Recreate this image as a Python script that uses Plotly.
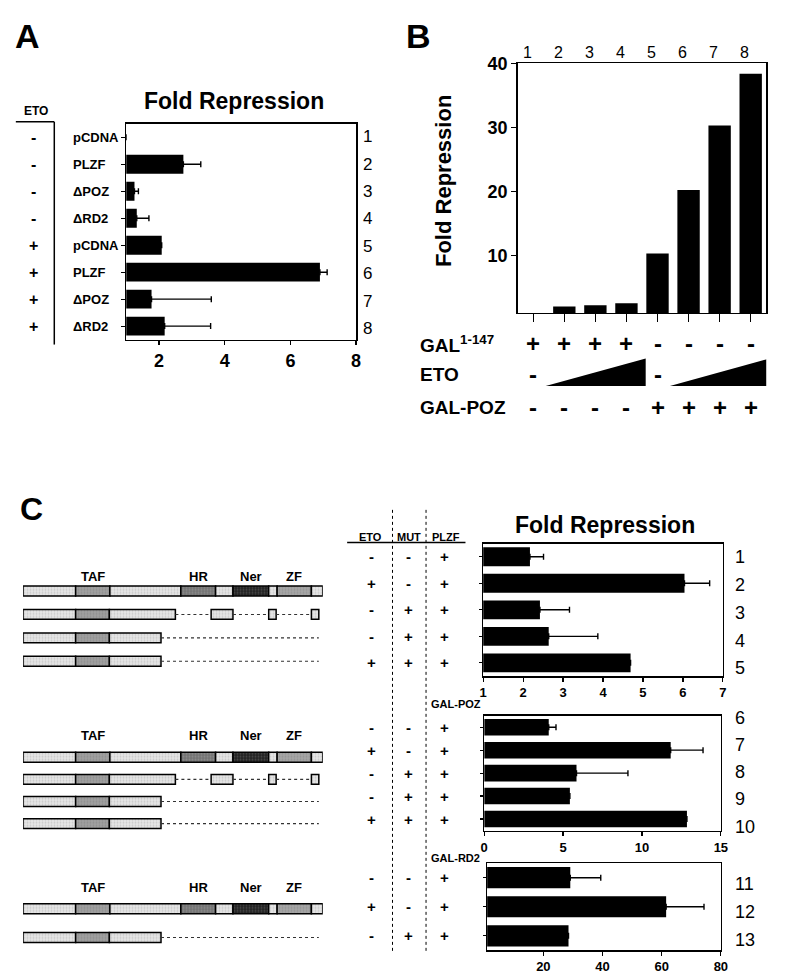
import plotly.graph_objects as go
import numpy as np

W, H = 789, 980
def fx(p): return p / W
def fy(p): return 1 - p / H

FONT = "Liberation Sans, Arial, Helvetica, sans-serif"

# ---------------- Panel A data ----------------
A_eto = ['-', '-', '-', '-', '+', '+', '+', '+']
A_constructs = ['pCDNA', 'PLZF', 'ΔPOZ', 'ΔRD2', 'pCDNA', 'PLZF', 'ΔPOZ', 'ΔRD2']
A_fold = [1.0, 2.74, 1.25, 1.32, 2.08, 6.90, 1.77, 2.17]
A_err_top = [None, 3.27, 1.37, 1.69, None, 7.12, 3.59, 3.57]
A_lanes = ['1', '2', '3', '4', '5', '6', '7', '8']
A_xticks = [2, 4, 6, 8]

# ---------------- Panel B data ----------------
B_lanes = [1, 2, 3, 4, 5, 6, 7, 8]
B_fold = [1.0, 2.0, 2.2, 2.5, 10.3, 20.2, 30.3, 38.4]
B_gal147 = ['+', '+', '+', '+', '-', '-', '-', '-']
B_eto = ['-', '', '', '', '-', '', '', '']
B_eto_ramps = [(2, 4), (6, 8)]
B_galpoz = ['-', '-', '-', '-', '+', '+', '+', '+']
B_yticks = [10, 20, 30, 40]

# ---------------- Panel C data ----------------
C_eto = ['-', '+', '-', '-', '+', '-', '+', '-', '-', '+', '-', '+', '-']
C_mut = ['-', '-', '+', '+', '+', '-', '-', '+', '+', '+', '-', '-', '+']
C_plzf = ['+'] * 13
C_lanes = [str(i) for i in range(1, 14)]
C_plzf_fold = [2.17, 6.04, 2.42, 2.64, 4.69]
C_plzf_err = [2.51, 6.67, 3.16, 3.87, None]
C_poz_fold = [4.09, 11.82, 5.85, 5.43, 12.85]
C_poz_err = [4.55, 13.87, 9.11, None, None]
C_rd2_fold = [29.1, 61.5, 28.5]
C_rd2_err = [39.4, 74.3, None]
C1_xticks = [1, 2, 3, 4, 5, 6, 7]
C2_xticks = [0, 5, 10, 15]
C3_xticks = [20, 40, 60, 80]

# schematic constructs (domain boundaries on a 0-604 residue scale)
FULL_START = [0, 106, 175, 318, 388, 423, 495, 512, 581]
FULL_END = [106, 175, 318, 388, 423, 495, 512, 581, 604]
FULL_KIND = ['L', 'TAF', 'L', 'HR', 'L', 'Ner', 'L', 'ZF', 'L']
DEL_START = [0, 106, 174, 379, 495, 581]
DEL_END = [106, 174, 307, 423, 510, 596]
DEL_KIND = ['L', 'TAF', 'L', 'L', 'L', 'L']
DEL_GAP_START = [307, 423, 510]
DEL_GAP_END = [379, 495, 581]
TRUNC_START = [0, 106, 174]
TRUNC_END = [106, 174, 278]
TRUNC_KIND = ['L', 'TAF', 'L']
TRUNC_GAP_START = [278]
TRUNC_GAP_END = [596]
DOMAIN_LABELS = ['TAF', 'HR', 'Ner', 'ZF']

KIND_COLOR = {'L': '#e6e6e6', 'TAF': '#a0a0a0', 'HR': '#737373', 'Ner': '#222222', 'ZF': '#a6a6a6'}

CONSTRUCTS = {
    'full': (FULL_START, FULL_END, FULL_KIND, [], []),
    'del': (DEL_START, DEL_END, DEL_KIND, DEL_GAP_START, DEL_GAP_END),
    'trunc': (TRUNC_START, TRUNC_END, TRUNC_KIND, TRUNC_GAP_START, TRUNC_GAP_END),
}
GROUP1 = ['full', 'del', 'trunc', 'trunc']
GROUP2 = ['full', 'del', 'trunc', 'trunc']
GROUP3 = ['full', 'trunc']

fig = go.Figure()

def plus_err(fold, top):
    return [(t - f) if t is not None else 0 for f, t in zip(fold, top)]

def hbar(vals, tops, xa, ya, width):
    n = len(vals)
    return go.Bar(
        x=vals, y=list(range(n)), orientation='h', xaxis=xa, yaxis=ya,
        marker=dict(color='black', line=dict(width=0)), width=width,
        error_x=dict(type='data', symmetric=False, array=plus_err(vals, tops),
                     arrayminus=[0] * n, color='black', thickness=1.4, width=3),
        hoverinfo='skip')

fig.add_trace(hbar(A_fold, A_err_top, 'x', 'y', 0.7))
fig.add_trace(go.Bar(x=B_lanes, y=B_fold, xaxis='x2', yaxis='y2', width=0.72,
                     marker=dict(color='black', line=dict(width=0)), hoverinfo='skip'))
fig.add_trace(hbar(C_plzf_fold, C_plzf_err, 'x3', 'y3', 0.71))
fig.add_trace(hbar(C_poz_fold, C_poz_err, 'x4', 'y4', 0.72))
fig.add_trace(hbar(C_rd2_fold, C_rd2_err, 'x5', 'y5', 0.73))

def schematic(group, ya, width):
    ys, bases, lens, cols = [], [], [], []
    gx, gy = [], []
    for r, name in enumerate(group):
        st, en, kd, gs, ge = CONSTRUCTS[name]
        for s, e, k in zip(st, en, kd):
            ys.append(r); bases.append(s); lens.append(e - s)
            cols.append(KIND_COLOR[k])
        for s, e in zip(gs, ge):
            gx += [s, e, None]; gy += [r, r, None]
    fig.add_trace(go.Scatter(x=gx, y=gy, xaxis='x6', yaxis=ya, mode='lines',
                             line=dict(color='#333333', width=1.1, dash='dot'),
                             hoverinfo='skip'))
    fig.add_trace(go.Bar(x=lens, base=bases, y=ys, orientation='h', xaxis='x6', yaxis=ya,
                         width=width,
                         marker=dict(color=cols, line=dict(color='black', width=1.5),
                                     pattern=dict(shape='.', fillmode='overlay',
                                                  fgcolor='#000000', fgopacity=0.18,
                                                  size=3, solidity=0.3)),
                         hoverinfo='skip'))

schematic(GROUP1, 'y6', 0.42)
schematic(GROUP2, 'y7', 0.45)
schematic(GROUP3, 'y8', 0.345)

tickfont = lambda s: dict(family=FONT, size=s, color='black', weight='bold')
def box_axis(**kw):
    d = dict(showline=True, mirror=True, linecolor='black', linewidth=1.5,
             showgrid=False, zeroline=False, ticks='outside', ticklen=4, tickwidth=1.2,
             tickcolor='black', fixedrange=True)
    d.update(kw)
    return d

layout = dict(
    width=W, height=H, margin=dict(l=0, r=0, t=0, b=0), autosize=False,
    paper_bgcolor='white', plot_bgcolor='white', showlegend=False, barmode='overlay',
    font=dict(family=FONT, color='black'),
    xaxis=box_axis(domain=[fx(124), fx(357)], range=[1, 8], anchor='y', tickvals=A_xticks,
                   tickfont=tickfont(18)),
    yaxis=box_axis(domain=[fy(333), fy(115)], range=[7.5, -0.5], anchor='x',
                   tickvals=list(range(8)), showticklabels=False),
    xaxis2=box_axis(domain=[fx(521), fx(773)], range=[0.5, 8.5], anchor='y2',
                    tickvals=B_lanes, showticklabels=False, ticklen=8),
    yaxis2=box_axis(domain=[fy(306), fy(54)], range=[1, 40], anchor='x2',
                    tickvals=B_yticks, tickfont=tickfont(18), ticklen=5),
    xaxis3=box_axis(domain=[fx(486), fx(729)], range=[1, 7], anchor='y3',
                    tickvals=C1_xticks, tickfont=tickfont(13)),
    yaxis3=box_axis(domain=[fy(673), fy(539)], range=[4.5, -0.5], anchor='x3',
                    tickvals=list(range(5)), showticklabels=False, ticklen=3),
    xaxis4=box_axis(domain=[fx(487), fx(727)], range=[0, 15], anchor='y4',
                    tickvals=C2_xticks, tickfont=tickfont(13)),
    yaxis4=box_axis(domain=[fy(829), fy(713)], range=[4.5, -0.5], anchor='x4',
                    tickvals=list(range(5)), showticklabels=False, ticklen=3),
    xaxis5=box_axis(domain=[fx(490), fx(727)], range=[1, 80], anchor='y5',
                    tickvals=C3_xticks, tickfont=tickfont(13)),
    yaxis5=box_axis(domain=[fy(950), fy(862)], range=[2.5, -0.5], anchor='x5',
                    tickvals=list(range(3)), showticklabels=False, ticklen=3),
    xaxis6=dict(domain=[fx(19.3), fx(323.3)], range=[0, 604], anchor='y6', visible=False,
                fixedrange=True),
    yaxis6=dict(domain=[fy(669.8), fy(575.2)], range=[3.5, -0.5], anchor='x6', visible=False,
                fixedrange=True),
    yaxis7=dict(domain=[fy(833.2), fy(743.8)], range=[3.5, -0.5], anchor='x6', visible=False,
                fixedrange=True),
    yaxis8=dict(domain=[fy(951.5), fy(893.5)], range=[1.5, -0.5], anchor='x6', visible=False,
                fixedrange=True),
)
fig.update_layout(**layout)

anns = []
def ann(text, x, y, size, bold=True, xanchor='center', xref='paper', yref='paper', **kw):
    f = dict(family=FONT, size=size, color='black')
    if bold:
        f['weight'] = 'bold'
    a = dict(text=text, x=x, y=y, xref=xref, yref=yref, xanchor=xanchor, yanchor='middle',
             showarrow=False, font=f)
    a.update(kw)
    anns.append(a)

shapes = []
def line(x0, y0, x1, y1, w=1.5, dash=None):
    ln = dict(color='black', width=w)
    if dash:
        ln['dash'] = dash
    shapes.append(dict(type='line', xref='paper', yref='paper', x0=fx(x0), y0=fy(y0),
                       x1=fx(x1), y1=fy(y1), line=ln))

# ---- Panel A annotations ----
ann('A', fx(24), fy(26), 34)
ann('Fold Repression', fx(233), fy(92), 23)
ann('ETO', fx(32), fy(102), 12)
line(12, 113, 51, 113)
line(51, 113, 51, 338)
for i, (s, c) in enumerate(zip(A_eto, A_constructs)):
    ann(s, fx(30), i, 16, yref='y')
    ann(c, fx(68), i, 13, xanchor='left', yref='y')
for lab, py in zip(A_lanes, np.linspace(128, 322, len(A_lanes))):
    ann(lab, fx(362), fy(py), 17, bold=False, xanchor='left')

# ---- Panel B annotations ----
ann('B', fx(420), fy(26), 34)
ann('Fold Repression', fx(445), fy(173), 22, textangle=-90)
for ln_, s1, s2, s3 in zip(B_lanes, B_gal147, B_eto, B_galpoz):
    ann(str(ln_), ln_, fy(43), 16, bold=False, xref='x2', xshift=-6)
    ann(s1, ln_, fy(337), 24, xref='x2')
    if s2:
        ann(s2, ln_, fy(368), 24, xref='x2')
    ann(s3, ln_, fy(402), 24, xref='x2')
ann('GAL<sup>1-147</sup>', fx(420), fy(337), 19, xanchor='left')
ann('ETO', fx(420), fy(368), 19, xanchor='left')
ann('GAL-POZ', fx(420), fy(402), 19, xanchor='left')
for a, b in B_eto_ramps:
    x0, x1 = a - 0.6, b + 0.62
    shapes.append(dict(type='path', xref='x2', yref='paper',
                       path=f'M {x0},{fy(380)} L {x1},{fy(380)} L {x1},{fy(352)} Z',
                       fillcolor='black', line=dict(width=0)))

# ---- Panel C annotations ----
ann('C', fx(28), fy(504), 32)
ann('Fold Repression', fx(610), fy(520), 23)
ann('ETO', fx(372), fy(532), 11)
ann('MUT', fx(411), fy(532), 11)
ann('PLZF', fx(448), fy(532), 11)
line(348, 538, 468, 538)
line(394, 505, 394, 952, w=1, dash='dot')
line(428, 505, 428, 952, w=1, dash='dot')
ann('GAL-POZ', fx(431), fy(701), 11, xanchor='left')
ann('GAL-RD2', fx(431), fy(857), 11, xanchor='left')
for i in range(13):
    if i < 5:
        yr, r = 'y3', i
    elif i < 10:
        yr, r = 'y4', i - 5
    else:
        yr, r = 'y5', i - 10
    ann(C_eto[i], fx(373), r, 15, yref=yr)
    ann(C_mut[i], fx(410), r, 15, yref=yr)
    ann(C_plzf[i], fx(447), r, 15, yref=yr)
for labs, (p0, p1) in ((C_lanes[0:5], (553, 665)), (C_lanes[5:10], (715, 825)),
                       (C_lanes[10:13], (883, 940))):
    for lab, py in zip(labs, np.linspace(p0, p1, len(labs))):
        ann(lab, fx(739), fy(py), 18, bold=False, xanchor='left')
for ly in (572, 733, 887):
    for lab in DOMAIN_LABELS:
        k = FULL_KIND.index(lab)
        ann(lab, (FULL_START[k] + FULL_END[k]) / 2, fy(ly), 13, xref='x6')

fig.update_layout(annotations=anns, shapes=shapes)
fig.write_html("out.html", config=dict(displayModeBar=False, staticPlot=True),
               post_script="document.body.style.margin='0';document.body.style.overflow='hidden';")
